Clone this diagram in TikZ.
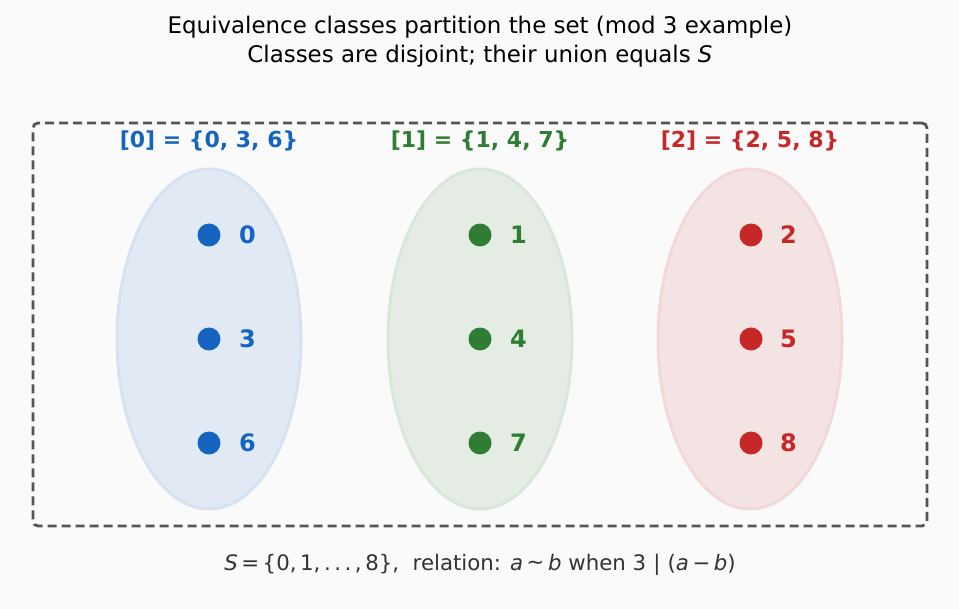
\documentclass[tikz,border=0pt]{standalone}
\usepackage{fontspec}
\setmainfont{DejaVu Sans}
\usetikzlibrary{shapes.geometric}
\definecolor{bg}{HTML}{FAFAFA}
\definecolor{cblue}{HTML}{1565C0}
\definecolor{cgreen}{HTML}{2E7D32}
\definecolor{cred}{HTML}{C62828}
\definecolor{frame}{HTML}{555555}
\definecolor{capt}{HTML}{333333}
\tikzset{
  classell/.style={ellipse, minimum width=184pt, minimum height=340pt, inner sep=0pt,
     fill=#1!11!bg, draw=#1!16!bg, line width=3pt},
  elem/.style={circle, fill=#1, minimum size=23pt, inner sep=0pt},
  elemlabel/.style={text=#1, font=\fontsize{24}{28}\selectfont\bfseries, anchor=west, inner sep=0pt},
  classlabel/.style={text=#1, font=\fontsize{22}{26}\selectfont\bfseries, inner sep=0pt},
  titletext/.style={font=\fontsize{22.9}{26}\selectfont, inner sep=0pt},
}
\begin{document}
\begin{tikzpicture}[x=1pt,y=-1pt]
\fill[bg] (0,0) rectangle (959,609);
\useasboundingbox (0,0) rectangle (959,609);

\node[titletext] (t1) at (480,27) {Equivalence classes partition the set (mod 3 example)};
\node[titletext] (t2) at (480,56) {Classes are disjoint; their union equals \textit{S}};

\node[draw=frame, dashed, dash pattern=on 9pt off 5pt, line width=2.8pt, rounded corners=5pt,
      minimum width=894pt, minimum height=403pt, inner sep=0pt] (frm) at (480,324.5) {};

\node[classell=cblue] (e0) at (209,339) {};
\node[classell=cgreen] (e1) at (480,339) {};
\node[classell=cred] (e2) at (750,339) {};

\node[classlabel=cblue] (c0) at (209,141) {[0] = \{0, 3, 6\}};
\node[classlabel=cgreen] (c1) at (480,141) {[1] = \{1, 4, 7\}};
\node[classlabel=cred] (c2) at (750,141) {[2] = \{2, 5, 8\}};

\node[elem=cblue] (d0) at (209,235) {};
\node[elem=cblue] (d3) at (209,339) {};
\node[elem=cblue] (d6) at (209,443) {};
\node[elem=cgreen] (d1) at (480,235) {};
\node[elem=cgreen] (d4) at (480,339) {};
\node[elem=cgreen] (d7) at (480,443) {};
\node[elem=cred] (d2) at (751,235) {};
\node[elem=cred] (d5) at (751,339) {};
\node[elem=cred] (d8) at (751,443) {};

\node[elemlabel=cblue] (n0) at (239,235) {0};
\node[elemlabel=cblue] (n3) at (239,339) {3};
\node[elemlabel=cblue] (n6) at (239,443) {6};
\node[elemlabel=cgreen] (n1) at (510,235) {1};
\node[elemlabel=cgreen] (n4) at (510,339) {4};
\node[elemlabel=cgreen] (n7) at (510,443) {7};
\node[elemlabel=cred] (n2) at (780,235) {2};
\node[elemlabel=cred] (n5) at (780,339) {5};
\node[elemlabel=cred] (n8) at (780,443) {8};

\node[text=capt, font=\fontsize{21.3}{24}\selectfont, inner sep=0pt] (cap) at (480,565)
  {\textit{S}\,=\,\{0,\,1,\,.\,.\,.\,,\,8\},\ \ relation: \textit{a}\,\raisebox{0.1ex}{\textasciitilde}\,\textit{b} when 3\,\,|\,\,(\textit{a}\,−\,\textit{b})};
\end{tikzpicture}
\end{document}
